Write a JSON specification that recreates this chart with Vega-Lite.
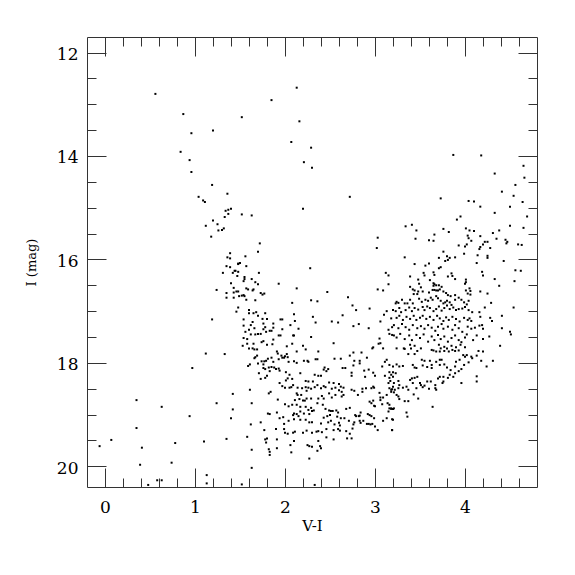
{
"$schema": "https://vega.github.io/schema/vega-lite/v6.json",
"width": 450, "height": 450,
"autosize": {"type": "none"},
"padding": {"left": 87, "top": 37, "right": 38, "bottom": 88},
"background": "white",
"config": {
 "view": {"stroke": "#333", "strokeWidth": 1},
 "axis": {"grid": false, "domain": false, "tickColor": "#333", "tickWidth": 1, "labelFont": "DejaVu Serif", "titleFont": "DejaVu Serif", "labelColor": "black", "titleColor": "black", "titleFontWeight": "normal", "labelFlush": false, "labelOverlap": false}
},
"data": {"values": [
{"VI":0.56,"Imag":12.80},{"VI":0.87,"Imag":13.19},{"VI":1.20,"Imag":13.51},{"VI":0.96,"Imag":13.56},{"VI":0.84,"Imag":13.92},{"VI":0.94,"Imag":14.08},{"VI":0.96,"Imag":14.31},{"VI":1.19,"Imag":14.56},
{"VI":2.13,"Imag":12.68},{"VI":1.85,"Imag":12.92},{"VI":1.52,"Imag":13.25},{"VI":2.16,"Imag":13.33},{"VI":2.07,"Imag":13.73},{"VI":2.29,"Imag":13.84},{"VI":2.21,"Imag":14.12},{"VI":2.30,"Imag":14.23},
{"VI":3.87,"Imag":13.98},{"VI":4.18,"Imag":13.99},{"VI":4.65,"Imag":14.19},{"VI":4.33,"Imag":14.34},{"VI":4.66,"Imag":14.42},{"VI":4.56,"Imag":14.56},
{"VI":1.36,"Imag":14.73},{"VI":1.04,"Imag":14.79},{"VI":1.09,"Imag":14.86},{"VI":1.11,"Imag":14.89},{"VI":1.34,"Imag":15.06},{"VI":1.37,"Imag":15.04},{"VI":1.40,"Imag":15.02},{"VI":1.37,"Imag":15.12},{"VI":1.33,"Imag":15.18},{"VI":1.20,"Imag":15.25},{"VI":1.25,"Imag":15.32},{"VI":1.12,"Imag":15.35},{"VI":1.32,"Imag":15.40},{"VI":1.30,"Imag":15.43},{"VI":1.26,"Imag":15.44},{"VI":1.18,"Imag":15.56},{"VI":1.39,"Imag":15.88},{"VI":1.36,"Imag":15.96},{"VI":1.39,"Imag":15.98},{"VI":1.48,"Imag":16.08},{"VI":1.35,"Imag":16.13},{"VI":1.39,"Imag":16.15},{"VI":1.44,"Imag":16.22},{"VI":1.48,"Imag":16.24},{"VI":1.31,"Imag":16.26},{"VI":1.42,"Imag":16.26},{"VI":1.47,"Imag":16.32},{"VI":1.40,"Imag":16.46},{"VI":1.43,"Imag":16.55},{"VI":1.24,"Imag":16.59},{"VI":1.35,"Imag":16.65},{"VI":1.43,"Imag":16.64},{"VI":1.46,"Imag":16.62},{"VI":1.48,"Imag":16.62},{"VI":1.35,"Imag":16.74},{"VI":1.43,"Imag":16.74},{"VI":1.49,"Imag":16.71},{"VI":1.48,"Imag":16.93},{"VI":1.46,"Imag":17.01},{"VI":1.19,"Imag":17.16},
{"VI":2.72,"Imag":14.79},{"VI":2.20,"Imag":15.02},{"VI":1.52,"Imag":15.13},{"VI":1.63,"Imag":15.15},{"VI":1.72,"Imag":15.69},{"VI":1.70,"Imag":15.85},{"VI":1.56,"Imag":15.94},{"VI":3.03,"Imag":15.58},{"VI":3.02,"Imag":15.78},{"VI":1.48,"Imag":16.09},{"VI":1.50,"Imag":16.07},{"VI":1.57,"Imag":16.13},{"VI":1.45,"Imag":16.22},{"VI":2.28,"Imag":16.17},{"VI":1.71,"Imag":16.26},{"VI":1.55,"Imag":16.34},{"VI":1.55,"Imag":16.38},{"VI":1.63,"Imag":16.38},{"VI":1.54,"Imag":16.42},{"VI":1.67,"Imag":16.44},{"VI":1.70,"Imag":16.48},{"VI":1.93,"Imag":16.47},{"VI":3.12,"Imag":16.26},{"VI":3.15,"Imag":16.31},{"VI":3.15,"Imag":16.48},{"VI":1.57,"Imag":16.56},{"VI":1.59,"Imag":16.58},{"VI":1.64,"Imag":16.60},{"VI":1.65,"Imag":16.58},{"VI":2.13,"Imag":16.56},{"VI":1.73,"Imag":16.65},{"VI":1.75,"Imag":16.68},{"VI":1.77,"Imag":16.66},{"VI":2.47,"Imag":16.63},{"VI":3.03,"Imag":16.58},{"VI":3.09,"Imag":16.60},{"VI":2.70,"Imag":16.73},{"VI":1.52,"Imag":16.70},{"VI":1.54,"Imag":16.69},{"VI":1.55,"Imag":16.71},{"VI":1.57,"Imag":16.78},{"VI":1.67,"Imag":16.79},{"VI":2.08,"Imag":16.84},{"VI":2.29,"Imag":16.79},{"VI":2.36,"Imag":16.81},{"VI":2.75,"Imag":16.89},{"VI":2.79,"Imag":16.98},{"VI":2.94,"Imag":16.95},{"VI":3.13,"Imag":17.00},{"VI":1.60,"Imag":16.98},{"VI":1.60,"Imag":17.04},{"VI":1.65,"Imag":17.04},{"VI":1.68,"Imag":17.02},{"VI":1.70,"Imag":17.09},{"VI":1.78,"Imag":17.04},{"VI":2.10,"Imag":17.06},{"VI":2.31,"Imag":17.11},{"VI":2.64,"Imag":17.08},{"VI":3.10,"Imag":17.07},{"VI":1.54,"Imag":17.16},{"VI":1.75,"Imag":17.15},{"VI":1.80,"Imag":17.15},{"VI":1.95,"Imag":17.16},{"VI":1.97,"Imag":17.16},{"VI":2.11,"Imag":17.19},{"VI":2.34,"Imag":17.22},{"VI":2.52,"Imag":17.20},{"VI":2.59,"Imag":17.22},{"VI":3.06,"Imag":17.20},{"VI":1.64,"Imag":17.21},{"VI":1.76,"Imag":17.24},{"VI":1.87,"Imag":17.24},{"VI":1.54,"Imag":17.28},{"VI":2.06,"Imag":17.27},{"VI":1.62,"Imag":17.27},{"VI":2.76,"Imag":17.29},{"VI":2.82,"Imag":17.25},{"VI":2.93,"Imag":17.33},{"VI":3.19,"Imag":17.31},{"VI":1.66,"Imag":17.33},{"VI":1.78,"Imag":17.31},{"VI":1.76,"Imag":17.35},{"VI":1.87,"Imag":17.32},{"VI":1.97,"Imag":17.35},{"VI":2.15,"Imag":17.34},{"VI":3.15,"Imag":17.36},{"VI":1.60,"Imag":17.36},{"VI":1.56,"Imag":17.40},{"VI":1.83,"Imag":17.38},{"VI":1.85,"Imag":17.38},{"VI":1.79,"Imag":17.40},{"VI":1.67,"Imag":17.45},{"VI":1.70,"Imag":17.44},{"VI":1.73,"Imag":17.44},{"VI":1.62,"Imag":17.45},{"VI":1.93,"Imag":17.47},{"VI":1.95,"Imag":17.47},{"VI":2.09,"Imag":17.47},{"VI":2.10,"Imag":17.47},{"VI":3.16,"Imag":17.44},{"VI":3.21,"Imag":17.47},{"VI":1.54,"Imag":17.52},{"VI":1.58,"Imag":17.54},{"VI":1.87,"Imag":17.55},{"VI":1.76,"Imag":17.58},{"VI":1.74,"Imag":17.60},{"VI":2.29,"Imag":17.50},{"VI":2.54,"Imag":17.62},{"VI":3.05,"Imag":17.53},{"VI":3.04,"Imag":17.63},{"VI":3.06,"Imag":17.62},{"VI":1.58,"Imag":17.63},{"VI":1.65,"Imag":17.63},{"VI":2.08,"Imag":17.63},
{"VI":4.41,"Imag":14.69},{"VI":4.54,"Imag":14.77},{"VI":3.73,"Imag":14.82},{"VI":4.04,"Imag":14.87},{"VI":4.10,"Imag":14.88},{"VI":4.64,"Imag":14.89},{"VI":4.17,"Imag":14.98},{"VI":4.50,"Imag":14.98},{"VI":4.33,"Imag":15.10},{"VI":4.69,"Imag":15.17},{"VI":3.95,"Imag":15.17},{"VI":3.91,"Imag":15.23},{"VI":3.34,"Imag":15.36},{"VI":3.41,"Imag":15.33},{"VI":3.46,"Imag":15.44},{"VI":3.76,"Imag":15.41},{"VI":3.82,"Imag":15.47},{"VI":4.01,"Imag":15.40},{"VI":4.05,"Imag":15.44},{"VI":4.10,"Imag":15.45},{"VI":4.50,"Imag":15.35},{"VI":4.38,"Imag":15.44},{"VI":4.65,"Imag":15.39},{"VI":4.31,"Imag":15.49},{"VI":4.03,"Imag":15.54},{"VI":4.04,"Imag":15.59},{"VI":4.17,"Imag":15.55},{"VI":3.66,"Imag":15.52},{"VI":3.45,"Imag":15.60},{"VI":3.60,"Imag":15.63},{"VI":3.65,"Imag":15.64},{"VI":4.35,"Imag":15.60},{"VI":4.45,"Imag":15.62},{"VI":4.47,"Imag":15.66},{"VI":4.46,"Imag":15.69},{"VI":4.07,"Imag":15.64},{"VI":4.02,"Imag":15.71},{"VI":4.00,"Imag":15.75},{"VI":3.93,"Imag":15.73},{"VI":4.22,"Imag":15.66},{"VI":4.25,"Imag":15.66},{"VI":4.20,"Imag":15.71},{"VI":4.17,"Imag":15.76},{"VI":4.16,"Imag":15.80},{"VI":4.28,"Imag":15.78},{"VI":4.59,"Imag":15.71},{"VI":4.63,"Imag":15.72},{"VI":3.76,"Imag":15.85},{"VI":3.99,"Imag":15.89},{"VI":4.14,"Imag":15.92},{"VI":4.25,"Imag":15.93},{"VI":4.25,"Imag":15.97},{"VI":3.71,"Imag":15.97},{"VI":3.80,"Imag":15.94},{"VI":3.83,"Imag":15.97},{"VI":3.89,"Imag":15.96},{"VI":3.33,"Imag":15.96},{"VI":3.78,"Imag":16.03},{"VI":3.81,"Imag":16.01},{"VI":4.43,"Imag":16.03},{"VI":3.60,"Imag":16.08},{"VI":3.44,"Imag":16.09},{"VI":3.56,"Imag":16.12},{"VI":4.13,"Imag":16.07},{"VI":3.73,"Imag":16.15},{"VI":3.71,"Imag":16.17},{"VI":3.39,"Imag":16.33},{"VI":3.54,"Imag":16.26},{"VI":3.55,"Imag":16.31},{"VI":3.65,"Imag":16.25},{"VI":3.66,"Imag":16.30},{"VI":3.81,"Imag":16.33},{"VI":3.85,"Imag":16.27},{"VI":3.86,"Imag":16.32},{"VI":3.89,"Imag":16.38},{"VI":4.19,"Imag":16.24},{"VI":4.20,"Imag":16.31},{"VI":4.56,"Imag":16.21},{"VI":4.62,"Imag":16.22},{"VI":4.33,"Imag":16.38},{"VI":4.55,"Imag":16.42},{"VI":4.01,"Imag":16.39},{"VI":4.01,"Imag":16.44},{"VI":3.48,"Imag":16.39},{"VI":3.49,"Imag":16.47},{"VI":3.61,"Imag":16.40},{"VI":3.65,"Imag":16.46},{"VI":3.66,"Imag":16.48},{"VI":3.68,"Imag":16.50},{"VI":3.65,"Imag":16.51},{"VI":3.74,"Imag":16.53},{"VI":3.71,"Imag":16.50},{"VI":3.39,"Imag":16.53},{"VI":3.42,"Imag":16.58},{"VI":4.38,"Imag":16.51},{"VI":4.00,"Imag":16.47},{"VI":4.05,"Imag":16.56},{"VI":3.51,"Imag":16.54},{"VI":3.24,"Imag":16.82},
{"VI":3.44,"Imag":16.60},{"VI":3.48,"Imag":16.62},{"VI":3.43,"Imag":16.67},{"VI":3.47,"Imag":16.67},{"VI":3.53,"Imag":16.62},{"VI":3.60,"Imag":16.64},{"VI":3.64,"Imag":16.59},{"VI":3.66,"Imag":16.59},{"VI":3.68,"Imag":16.60},{"VI":3.70,"Imag":16.60},{"VI":3.72,"Imag":16.58},{"VI":3.76,"Imag":16.62},{"VI":3.79,"Imag":16.65},{"VI":3.81,"Imag":16.69},{"VI":3.84,"Imag":16.71},{"VI":3.89,"Imag":16.69},{"VI":4.01,"Imag":16.60},{"VI":4.03,"Imag":16.66},{"VI":4.06,"Imag":16.61},{"VI":4.06,"Imag":16.68},{"VI":4.17,"Imag":16.62},{"VI":4.25,"Imag":16.66},{"VI":4.29,"Imag":16.84},{"VI":4.22,"Imag":16.93},
{"VI":3.23,"Imag":16.85},{"VI":3.26,"Imag":16.84},{"VI":3.30,"Imag":16.78},{"VI":3.33,"Imag":16.85},{"VI":3.36,"Imag":16.85},{"VI":3.39,"Imag":16.78},{"VI":3.42,"Imag":16.85},{"VI":3.49,"Imag":16.76},{"VI":3.52,"Imag":16.82},{"VI":3.56,"Imag":16.78},{"VI":3.59,"Imag":16.80},{"VI":3.62,"Imag":16.74},{"VI":3.64,"Imag":16.78},{"VI":3.68,"Imag":16.71},{"VI":3.70,"Imag":16.75},{"VI":3.73,"Imag":16.80},{"VI":3.76,"Imag":16.85},{"VI":3.78,"Imag":16.83},{"VI":3.80,"Imag":16.80},{"VI":3.83,"Imag":16.83},{"VI":3.85,"Imag":16.88},{"VI":3.89,"Imag":16.78},{"VI":3.93,"Imag":16.74},{"VI":3.96,"Imag":16.78},{"VI":3.99,"Imag":16.83},{"VI":4.02,"Imag":16.87},{"VI":4.04,"Imag":16.80},
{"VI":3.20,"Imag":16.98},{"VI":3.23,"Imag":17.00},{"VI":3.27,"Imag":16.94},{"VI":3.29,"Imag":17.02},{"VI":3.34,"Imag":16.98},{"VI":3.38,"Imag":16.93},{"VI":3.41,"Imag":17.00},{"VI":3.44,"Imag":16.94},{"VI":3.48,"Imag":16.97},{"VI":3.53,"Imag":16.92},{"VI":3.55,"Imag":16.98},{"VI":3.58,"Imag":16.91},{"VI":3.61,"Imag":16.94},{"VI":3.65,"Imag":17.00},{"VI":3.68,"Imag":16.96},{"VI":3.71,"Imag":16.91},{"VI":3.74,"Imag":16.99},{"VI":3.77,"Imag":16.94},{"VI":3.80,"Imag":16.89},{"VI":3.83,"Imag":16.96},{"VI":3.87,"Imag":16.93},{"VI":3.90,"Imag":16.98},{"VI":3.93,"Imag":16.96},{"VI":3.97,"Imag":16.95},{"VI":4.00,"Imag":16.92},{"VI":4.04,"Imag":16.98},{"VI":4.08,"Imag":17.02},
{"VI":3.18,"Imag":17.14},{"VI":3.24,"Imag":17.13},{"VI":3.27,"Imag":17.09},{"VI":3.31,"Imag":17.17},{"VI":3.35,"Imag":17.11},{"VI":3.39,"Imag":17.15},{"VI":3.43,"Imag":17.09},{"VI":3.46,"Imag":17.17},{"VI":3.50,"Imag":17.13},{"VI":3.53,"Imag":17.09},{"VI":3.57,"Imag":17.15},{"VI":3.61,"Imag":17.11},{"VI":3.65,"Imag":17.17},{"VI":3.69,"Imag":17.09},{"VI":3.72,"Imag":17.14},{"VI":3.76,"Imag":17.19},{"VI":3.79,"Imag":17.12},{"VI":3.82,"Imag":17.17},{"VI":3.86,"Imag":17.11},{"VI":3.90,"Imag":17.15},{"VI":3.94,"Imag":17.20},{"VI":3.99,"Imag":17.13},{"VI":4.03,"Imag":17.17},{"VI":4.05,"Imag":17.14},{"VI":4.07,"Imag":17.19},{"VI":4.16,"Imag":17.02},{"VI":4.17,"Imag":17.11},{"VI":4.28,"Imag":17.13},{"VI":4.30,"Imag":17.19},
{"VI":3.21,"Imag":17.27},{"VI":3.26,"Imag":17.33},{"VI":3.30,"Imag":17.25},{"VI":3.34,"Imag":17.31},{"VI":3.38,"Imag":17.36},{"VI":3.42,"Imag":17.27},{"VI":3.47,"Imag":17.33},{"VI":3.51,"Imag":17.29},{"VI":3.55,"Imag":17.34},{"VI":3.59,"Imag":17.27},{"VI":3.63,"Imag":17.32},{"VI":3.67,"Imag":17.38},{"VI":3.70,"Imag":17.30},{"VI":3.74,"Imag":17.25},{"VI":3.76,"Imag":17.34},{"VI":3.81,"Imag":17.30},{"VI":3.86,"Imag":17.36},{"VI":3.89,"Imag":17.27},{"VI":3.93,"Imag":17.33},{"VI":3.97,"Imag":17.40},{"VI":4.03,"Imag":17.30},{"VI":4.07,"Imag":17.34},{"VI":4.11,"Imag":17.32},{"VI":4.16,"Imag":17.28},{"VI":4.20,"Imag":17.34},{"VI":4.19,"Imag":17.27},{"VI":4.41,"Imag":17.09},{"VI":4.41,"Imag":17.33},{"VI":4.50,"Imag":17.40},{"VI":4.54,"Imag":16.93},{"VI":4.51,"Imag":17.45},
{"VI":3.19,"Imag":17.46},{"VI":3.24,"Imag":17.51},{"VI":3.28,"Imag":17.44},{"VI":3.33,"Imag":17.54},{"VI":3.38,"Imag":17.47},{"VI":3.41,"Imag":17.56},{"VI":3.46,"Imag":17.46},{"VI":3.50,"Imag":17.52},{"VI":3.54,"Imag":17.45},{"VI":3.59,"Imag":17.59},{"VI":3.63,"Imag":17.49},{"VI":3.66,"Imag":17.56},{"VI":3.70,"Imag":17.46},{"VI":3.73,"Imag":17.54},{"VI":3.77,"Imag":17.49},{"VI":3.81,"Imag":17.59},{"VI":3.85,"Imag":17.52},{"VI":3.89,"Imag":17.47},{"VI":3.93,"Imag":17.56},{"VI":3.96,"Imag":17.60},{"VI":4.00,"Imag":17.51},{"VI":4.02,"Imag":17.45},{"VI":4.09,"Imag":17.56},{"VI":4.13,"Imag":17.47},{"VI":4.20,"Imag":17.54},{"VI":4.27,"Imag":17.49},
{"VI":3.39,"Imag":17.65},{"VI":3.40,"Imag":17.72},{"VI":3.44,"Imag":17.67},{"VI":3.51,"Imag":17.72},{"VI":3.71,"Imag":17.65},{"VI":3.73,"Imag":17.72},{"VI":3.77,"Imag":17.69},{"VI":3.80,"Imag":17.72},{"VI":3.82,"Imag":17.78},{"VI":3.85,"Imag":17.67},{"VI":3.90,"Imag":17.70},{"VI":3.95,"Imag":17.65},{"VI":4.00,"Imag":17.70},{"VI":3.63,"Imag":17.75},{"VI":3.65,"Imag":17.76},{"VI":3.68,"Imag":17.78},{"VI":3.72,"Imag":17.78},{"VI":3.77,"Imag":17.77},{"VI":3.86,"Imag":17.75},{"VI":3.89,"Imag":17.77},{"VI":3.93,"Imag":17.76},{"VI":3.37,"Imag":17.83},{"VI":3.44,"Imag":17.83},{"VI":3.47,"Imag":17.77},{"VI":3.24,"Imag":17.72},{"VI":3.32,"Imag":17.72},{"VI":3.33,"Imag":17.73},{"VI":4.13,"Imag":17.86},{"VI":4.15,"Imag":17.77},{"VI":4.20,"Imag":17.78},{"VI":4.08,"Imag":17.91},{"VI":4.18,"Imag":17.96},{"VI":4.24,"Imag":18.07},{"VI":4.31,"Imag":17.96},{"VI":4.39,"Imag":17.67},{"VI":3.16,"Imag":18.04},{"VI":3.20,"Imag":18.07},{"VI":3.24,"Imag":18.03},{"VI":3.27,"Imag":18.07},{"VI":3.31,"Imag":18.06},{"VI":3.42,"Imag":18.04},{"VI":3.44,"Imag":18.09},{"VI":3.46,"Imag":18.10},{"VI":3.52,"Imag":17.94},{"VI":3.53,"Imag":18.05},{"VI":3.55,"Imag":17.96},{"VI":3.58,"Imag":18.08},{"VI":3.61,"Imag":17.96},{"VI":3.63,"Imag":18.04},{"VI":3.63,"Imag":18.10},{"VI":3.68,"Imag":17.98},{"VI":3.72,"Imag":17.94},{"VI":3.74,"Imag":17.94},{"VI":3.72,"Imag":18.04},{"VI":3.77,"Imag":18.03},{"VI":3.80,"Imag":18.09},{"VI":3.84,"Imag":18.14},{"VI":3.90,"Imag":17.98},{"VI":3.94,"Imag":17.94},{"VI":3.98,"Imag":17.85},{"VI":4.00,"Imag":17.88},{"VI":4.02,"Imag":17.85},{"VI":3.99,"Imag":18.04},{"VI":4.04,"Imag":17.99},{"VI":4.07,"Imag":17.88},{"VI":3.89,"Imag":18.07},{"VI":3.93,"Imag":18.16},{"VI":3.96,"Imag":18.12},{"VI":3.83,"Imag":18.23},{"VI":3.87,"Imag":18.27},{"VI":3.81,"Imag":18.29},{"VI":3.16,"Imag":18.29},{"VI":3.18,"Imag":18.23},{"VI":3.20,"Imag":18.18},{"VI":3.23,"Imag":18.20},{"VI":3.26,"Imag":18.35},{"VI":3.26,"Imag":18.49},{"VI":3.27,"Imag":18.43},{"VI":3.31,"Imag":18.48},{"VI":3.35,"Imag":18.46},{"VI":3.37,"Imag":18.52},{"VI":3.39,"Imag":18.33},{"VI":3.41,"Imag":18.30},{"VI":3.44,"Imag":18.29},{"VI":3.47,"Imag":18.27},{"VI":3.42,"Imag":18.39},{"VI":3.50,"Imag":18.39},{"VI":3.51,"Imag":18.43},{"VI":3.53,"Imag":18.47},{"VI":3.55,"Imag":18.44},{"VI":3.58,"Imag":18.36},{"VI":3.62,"Imag":18.36},{"VI":3.67,"Imag":18.43},{"VI":3.70,"Imag":18.30},{"VI":3.72,"Imag":18.27},{"VI":3.76,"Imag":18.27},{"VI":3.76,"Imag":18.36},{"VI":3.60,"Imag":18.50},{"VI":3.67,"Imag":18.49},{"VI":3.68,"Imag":18.52},{"VI":3.75,"Imag":18.39},{"VI":3.89,"Imag":18.20},{"VI":3.96,"Imag":18.39},{"VI":4.13,"Imag":18.36},{"VI":4.13,"Imag":18.26},{"VI":3.16,"Imag":18.49},{"VI":3.18,"Imag":18.52},{"VI":3.20,"Imag":18.46},{"VI":3.21,"Imag":18.57},{"VI":3.24,"Imag":18.62},{"VI":3.26,"Imag":18.65},{"VI":3.27,"Imag":18.70},{"VI":3.33,"Imag":18.74},{"VI":3.37,"Imag":18.74},{"VI":3.46,"Imag":18.49},{"VI":3.43,"Imag":18.61},{"VI":3.48,"Imag":18.69},{"VI":3.16,"Imag":18.81},{"VI":3.18,"Imag":18.88},{"VI":3.21,"Imag":18.88},{"VI":3.64,"Imag":18.85},{"VI":3.35,"Imag":18.96},{"VI":3.36,"Imag":19.04},{"VI":3.19,"Imag":19.09},{"VI":3.19,"Imag":19.30},
{"VI":1.80,"Imag":17.65},{"VI":1.86,"Imag":17.64},{"VI":2.02,"Imag":17.68},{"VI":2.20,"Imag":17.67},{"VI":2.23,"Imag":17.74},{"VI":1.53,"Imag":17.67},{"VI":1.60,"Imag":17.72},{"VI":1.64,"Imag":17.72},{"VI":1.66,"Imag":17.74},{"VI":1.69,"Imag":17.74},{"VI":2.13,"Imag":17.78},{"VI":2.37,"Imag":17.78},{"VI":2.98,"Imag":17.70},{"VI":2.97,"Imag":17.72},{"VI":3.09,"Imag":17.72},
{"VI":1.67,"Imag":17.89},{"VI":1.69,"Imag":17.86},{"VI":1.66,"Imag":17.91},{"VI":1.77,"Imag":17.97},{"VI":1.79,"Imag":17.96},{"VI":1.76,"Imag":18.03},{"VI":1.81,"Imag":17.92},{"VI":1.85,"Imag":17.90},{"VI":1.87,"Imag":17.98},{"VI":1.91,"Imag":17.78},{"VI":1.92,"Imag":17.82},{"VI":1.93,"Imag":17.93},{"VI":1.96,"Imag":17.86},{"VI":1.97,"Imag":17.90},{"VI":1.99,"Imag":17.90},{"VI":2.00,"Imag":17.87},{"VI":2.02,"Imag":17.83},{"VI":2.03,"Imag":17.89},{"VI":2.04,"Imag":17.98},{"VI":2.10,"Imag":17.97},{"VI":2.13,"Imag":18.00},{"VI":2.21,"Imag":17.96},{"VI":2.25,"Imag":17.96},{"VI":2.26,"Imag":17.98},{"VI":2.34,"Imag":17.93},{"VI":2.36,"Imag":17.93},{"VI":2.55,"Imag":17.92},{"VI":2.62,"Imag":17.92},{"VI":2.76,"Imag":17.80},{"VI":2.72,"Imag":17.86},{"VI":2.85,"Imag":17.80},{"VI":2.83,"Imag":17.96},{"VI":2.83,"Imag":18.01},{"VI":2.77,"Imag":17.96},{"VI":2.76,"Imag":18.05},{"VI":2.91,"Imag":17.90},{"VI":3.13,"Imag":17.94},{"VI":3.11,"Imag":17.98},{"VI":3.08,"Imag":18.07},{"VI":1.59,"Imag":18.06},{"VI":1.61,"Imag":18.03},{"VI":1.70,"Imag":18.01},{"VI":1.74,"Imag":17.97},
{"VI":1.76,"Imag":18.10},{"VI":1.78,"Imag":18.12},{"VI":1.82,"Imag":18.09},{"VI":1.83,"Imag":18.16},{"VI":1.85,"Imag":18.08},{"VI":1.90,"Imag":18.12},{"VI":1.93,"Imag":18.11},{"VI":1.94,"Imag":18.15},{"VI":1.88,"Imag":18.09},{"VI":1.71,"Imag":18.20},{"VI":1.73,"Imag":18.31},{"VI":1.80,"Imag":18.25},{"VI":1.78,"Imag":18.29},{"VI":2.01,"Imag":18.18},{"VI":2.05,"Imag":18.23},{"VI":2.01,"Imag":18.34},{"VI":2.03,"Imag":18.30},{"VI":2.08,"Imag":18.31},{"VI":2.17,"Imag":18.20},{"VI":2.23,"Imag":18.35},{"VI":2.26,"Imag":18.36},{"VI":2.31,"Imag":18.36},{"VI":2.33,"Imag":18.23},{"VI":2.37,"Imag":18.25},{"VI":2.40,"Imag":18.25},{"VI":2.44,"Imag":18.09},{"VI":2.46,"Imag":18.16},{"VI":2.48,"Imag":18.12},{"VI":2.43,"Imag":18.13},{"VI":2.64,"Imag":18.10},{"VI":2.67,"Imag":18.10},{"VI":2.74,"Imag":18.19},{"VI":2.74,"Imag":18.25},{"VI":2.88,"Imag":18.15},{"VI":2.89,"Imag":18.27},{"VI":2.93,"Imag":18.13},{"VI":2.98,"Imag":18.19},{"VI":3.00,"Imag":18.25},{"VI":3.11,"Imag":18.25},{"VI":3.16,"Imag":18.18},{"VI":3.17,"Imag":18.35},{"VI":3.20,"Imag":18.27},{"VI":3.21,"Imag":18.39},{"VI":3.15,"Imag":18.39},
{"VI":1.94,"Imag":18.39},{"VI":1.97,"Imag":18.45},{"VI":2.00,"Imag":18.48},{"VI":2.05,"Imag":18.48},{"VI":2.07,"Imag":18.47},{"VI":2.09,"Imag":18.43},{"VI":2.14,"Imag":18.48},{"VI":2.19,"Imag":18.49},{"VI":2.23,"Imag":18.47},{"VI":2.26,"Imag":18.48},{"VI":2.24,"Imag":18.54},{"VI":2.29,"Imag":18.50},{"VI":2.33,"Imag":18.47},{"VI":2.36,"Imag":18.43},{"VI":2.40,"Imag":18.49},{"VI":2.43,"Imag":18.45},{"VI":2.45,"Imag":18.47},{"VI":2.49,"Imag":18.38},{"VI":2.54,"Imag":18.39},{"VI":2.52,"Imag":18.50},{"VI":2.56,"Imag":18.48},{"VI":2.60,"Imag":18.41},{"VI":2.62,"Imag":18.46},{"VI":2.65,"Imag":18.48},{"VI":2.49,"Imag":18.59},{"VI":2.52,"Imag":18.67},{"VI":2.56,"Imag":18.62},{"VI":2.60,"Imag":18.53},{"VI":2.63,"Imag":18.56},{"VI":2.63,"Imag":18.65},{"VI":2.65,"Imag":18.62},{"VI":2.74,"Imag":18.52},{"VI":2.77,"Imag":18.54},{"VI":2.81,"Imag":18.62},{"VI":2.86,"Imag":18.50},{"VI":2.86,"Imag":18.56},{"VI":2.90,"Imag":18.49},{"VI":2.96,"Imag":18.49},{"VI":2.98,"Imag":18.46},{"VI":2.99,"Imag":18.48},{"VI":3.05,"Imag":18.58},{"VI":3.06,"Imag":18.67},{"VI":3.09,"Imag":18.67},{"VI":3.13,"Imag":18.62},{"VI":3.18,"Imag":18.56},{"VI":3.22,"Imag":18.52},{"VI":3.19,"Imag":18.51},{"VI":1.61,"Imag":18.52},{"VI":1.84,"Imag":18.56},{"VI":1.82,"Imag":18.59},{"VI":2.13,"Imag":18.59},{"VI":2.14,"Imag":18.62},{"VI":2.18,"Imag":18.62},{"VI":2.24,"Imag":18.69},{"VI":2.29,"Imag":18.69},{"VI":2.37,"Imag":18.69},{"VI":2.43,"Imag":18.69},{"VI":2.11,"Imag":18.72},{"VI":2.16,"Imag":18.70},{"VI":2.20,"Imag":18.73},{"VI":2.22,"Imag":18.73},{"VI":2.41,"Imag":18.64},
{"VI":1.63,"Imag":18.78},{"VI":1.92,"Imag":18.71},{"VI":2.00,"Imag":18.80},{"VI":2.04,"Imag":18.84},{"VI":2.08,"Imag":18.81},{"VI":2.13,"Imag":18.81},{"VI":2.17,"Imag":18.85},{"VI":2.23,"Imag":18.85},{"VI":2.29,"Imag":18.87},{"VI":2.32,"Imag":18.92},{"VI":2.36,"Imag":18.78},{"VI":2.42,"Imag":18.81},{"VI":2.45,"Imag":18.89},{"VI":2.49,"Imag":18.92},{"VI":2.51,"Imag":18.93},{"VI":2.53,"Imag":18.93},{"VI":2.57,"Imag":18.92},{"VI":2.59,"Imag":18.96},{"VI":2.50,"Imag":19.01},{"VI":2.58,"Imag":19.04},{"VI":2.47,"Imag":19.03},{"VI":2.68,"Imag":18.89},{"VI":2.72,"Imag":18.87},{"VI":2.78,"Imag":19.01},{"VI":2.79,"Imag":19.03},{"VI":2.82,"Imag":19.03},{"VI":2.83,"Imag":19.02},{"VI":2.84,"Imag":18.96},{"VI":2.92,"Imag":18.99},{"VI":2.94,"Imag":19.01},{"VI":2.96,"Imag":19.03},{"VI":2.99,"Imag":19.07},{"VI":2.94,"Imag":18.75},{"VI":2.96,"Imag":18.78},{"VI":2.98,"Imag":18.73},{"VI":2.99,"Imag":18.83},{"VI":3.00,"Imag":18.84},{"VI":3.06,"Imag":18.72},{"VI":3.08,"Imag":18.80},{"VI":3.14,"Imag":18.78},{"VI":3.16,"Imag":18.88},{"VI":3.18,"Imag":18.89},{"VI":3.20,"Imag":18.89},{"VI":3.15,"Imag":18.94},{"VI":3.13,"Imag":19.07},{"VI":1.81,"Imag":18.98},{"VI":1.83,"Imag":18.99},{"VI":1.91,"Imag":18.96},{"VI":1.98,"Imag":19.05},{"VI":2.09,"Imag":19.01},{"VI":2.10,"Imag":18.98},{"VI":2.13,"Imag":18.99},{"VI":2.15,"Imag":19.03},{"VI":2.17,"Imag":18.94},{"VI":2.21,"Imag":18.98},{"VI":2.26,"Imag":18.91},{"VI":2.27,"Imag":18.99},{"VI":2.30,"Imag":18.93},
{"VI":1.62,"Imag":19.19},{"VI":1.73,"Imag":19.15},{"VI":1.94,"Imag":19.07},{"VI":1.99,"Imag":19.18},{"VI":2.04,"Imag":19.12},{"VI":2.10,"Imag":19.09},{"VI":2.17,"Imag":19.10},{"VI":2.23,"Imag":19.10},{"VI":2.27,"Imag":19.15},{"VI":2.30,"Imag":19.15},{"VI":2.40,"Imag":19.17},{"VI":2.43,"Imag":19.06},{"VI":2.48,"Imag":19.15},{"VI":2.51,"Imag":19.12},{"VI":2.55,"Imag":19.19},{"VI":2.60,"Imag":19.16},{"VI":2.61,"Imag":19.21},{"VI":2.62,"Imag":19.07},{"VI":2.66,"Imag":19.07},{"VI":2.71,"Imag":19.12},{"VI":2.77,"Imag":19.15},{"VI":2.76,"Imag":19.19},{"VI":2.83,"Imag":19.12},{"VI":2.84,"Imag":19.16},{"VI":2.87,"Imag":19.12},{"VI":2.91,"Imag":19.18},{"VI":2.93,"Imag":19.18},{"VI":2.95,"Imag":19.19},{"VI":2.97,"Imag":19.18},{"VI":3.00,"Imag":19.23},{"VI":3.03,"Imag":19.30},{"VI":3.09,"Imag":19.12},{"VI":3.19,"Imag":19.30},{"VI":3.20,"Imag":19.10},
{"VI":1.77,"Imag":19.30},{"VI":1.90,"Imag":19.28},{"VI":1.99,"Imag":19.28},{"VI":2.00,"Imag":19.35},{"VI":2.03,"Imag":19.37},{"VI":2.09,"Imag":19.35},{"VI":2.11,"Imag":19.33},{"VI":2.20,"Imag":19.35},{"VI":2.24,"Imag":19.31},{"VI":2.30,"Imag":19.35},{"VI":2.35,"Imag":19.33},{"VI":2.37,"Imag":19.32},{"VI":2.41,"Imag":19.34},{"VI":2.46,"Imag":19.28},{"VI":2.54,"Imag":19.30},{"VI":2.59,"Imag":19.28},{"VI":2.61,"Imag":19.31},{"VI":2.68,"Imag":19.32},{"VI":2.75,"Imag":19.27},{"VI":2.72,"Imag":19.37},
{"VI":1.58,"Imag":19.43},{"VI":1.78,"Imag":19.48},{"VI":1.80,"Imag":19.46},{"VI":1.79,"Imag":19.54},{"VI":1.91,"Imag":19.48},{"VI":1.82,"Imag":19.67},{"VI":1.83,"Imag":19.78},{"VI":1.83,"Imag":19.72},{"VI":1.91,"Imag":19.65},{"VI":2.06,"Imag":19.59},{"VI":2.10,"Imag":19.51},{"VI":2.25,"Imag":19.59},{"VI":2.27,"Imag":19.61},{"VI":2.30,"Imag":19.62},{"VI":2.37,"Imag":19.51},{"VI":2.39,"Imag":19.61},{"VI":2.46,"Imag":19.44},{"VI":2.54,"Imag":19.48},{"VI":2.36,"Imag":19.70},{"VI":2.40,"Imag":19.65},{"VI":2.27,"Imag":19.85},{"VI":2.07,"Imag":19.73},{"VI":2.69,"Imag":19.46},{"VI":2.74,"Imag":19.46},{"VI":1.63,"Imag":19.68},{"VI":1.63,"Imag":20.03},{"VI":1.52,"Imag":20.35},{"VI":2.33,"Imag":20.36},
{"VI":1.12,"Imag":17.82},{"VI":1.33,"Imag":17.83},{"VI":0.97,"Imag":18.10},{"VI":1.42,"Imag":18.60},{"VI":1.24,"Imag":18.78},{"VI":1.42,"Imag":18.90},{"VI":0.35,"Imag":18.72},{"VI":0.63,"Imag":18.85},{"VI":0.94,"Imag":19.03},{"VI":1.40,"Imag":19.07},{"VI":0.35,"Imag":19.26},{"VI":0.07,"Imag":19.49},{"VI":-0.06,"Imag":19.61},{"VI":0.41,"Imag":19.64},{"VI":0.78,"Imag":19.55},{"VI":1.10,"Imag":19.52},{"VI":1.35,"Imag":19.47},{"VI":0.39,"Imag":19.97},{"VI":0.74,"Imag":19.93},{"VI":1.13,"Imag":20.17},{"VI":1.13,"Imag":20.33},{"VI":0.58,"Imag":20.27},{"VI":0.63,"Imag":20.27},{"VI":0.48,"Imag":20.36}
]},
"resolve": {"axis": {"x": "independent", "y": "independent"}},
"layer": [
 {"mark": {"type": "square", "size": 4, "color": "black", "opacity": 1},
  "encoding": {
   "x": {"field": "VI", "type": "quantitative", "scale": {"domain": [-0.2, 4.8], "nice": false, "zero": false},
     "axis": {"orient": "bottom", "values": [0,1,2,3,4], "ticks": false, "tickSize": 0, "labelFontSize": 17, "labelPadding": 12, "title": "V-I", "titleFontSize": 15, "titlePadding": 3}},
   "y": {"field": "Imag", "type": "quantitative", "scale": {"domain": [11.7, 20.4], "reverse": true, "nice": false, "zero": false},
     "axis": {"orient": "left", "values": [12,14,16,18,20], "ticks": false, "tickSize": 0, "labelFontSize": 17, "labelPadding": 9, "labelOffset": 2, "title": "I (mag)", "titleFontSize": 13, "titlePadding": 18}}
  }},
 {"data": {"values": [{"VI": 2, "Imag": 16}]},
  "mark": {"type": "square", "opacity": 0},
  "encoding": {
   "x": {"field": "VI", "type": "quantitative", "axis": {"orient": "bottom", "values": [0,1,2,3,4], "tickSize": -19, "labels": false, "title": null}},
   "y": {"field": "Imag", "type": "quantitative", "axis": {"orient": "left", "values": [12,14,16,18,20], "tickSize": -19, "labels": false, "title": null}}
  }},
 {"data": {"values": [{"VI": 2, "Imag": 16}]},
  "mark": {"type": "square", "opacity": 0},
  "encoding": {
   "x": {"field": "VI", "type": "quantitative", "axis": {"orient": "bottom", "values": [0.2,0.4,0.6,0.8,1.2,1.4,1.6,1.8,2.2,2.4,2.6,2.8,3.2,3.4,3.6,3.8,4.2,4.4,4.6], "tickSize": -9, "labels": false, "title": null}},
   "y": {"field": "Imag", "type": "quantitative", "axis": {"orient": "left", "values": [12.5,13,13.5,14.5,15,15.5,16.5,17,17.5,18.5,19,19.5], "tickSize": -9, "labels": false, "title": null}}
  }},
 {"data": {"values": [{"VI": 2, "Imag": 16}]},
  "mark": {"type": "square", "opacity": 0},
  "encoding": {
   "x": {"field": "VI", "type": "quantitative", "axis": {"orient": "top", "values": [0,1,2,3,4], "tickSize": -19, "labels": false, "title": null}},
   "y": {"field": "Imag", "type": "quantitative", "axis": {"orient": "right", "values": [12,14,16,18,20], "tickSize": -19, "labels": false, "title": null}}
  }},
 {"data": {"values": [{"VI": 2, "Imag": 16}]},
  "mark": {"type": "square", "opacity": 0},
  "encoding": {
   "x": {"field": "VI", "type": "quantitative", "axis": {"orient": "top", "values": [0.2,0.4,0.6,0.8,1.2,1.4,1.6,1.8,2.2,2.4,2.6,2.8,3.2,3.4,3.6,3.8,4.2,4.4,4.6], "tickSize": -9, "labels": false, "title": null}},
   "y": {"field": "Imag", "type": "quantitative", "axis": {"orient": "right", "values": [12.5,13,13.5,14.5,15,15.5,16.5,17,17.5,18.5,19,19.5], "tickSize": -9, "labels": false, "title": null}}
  }}
]
}
